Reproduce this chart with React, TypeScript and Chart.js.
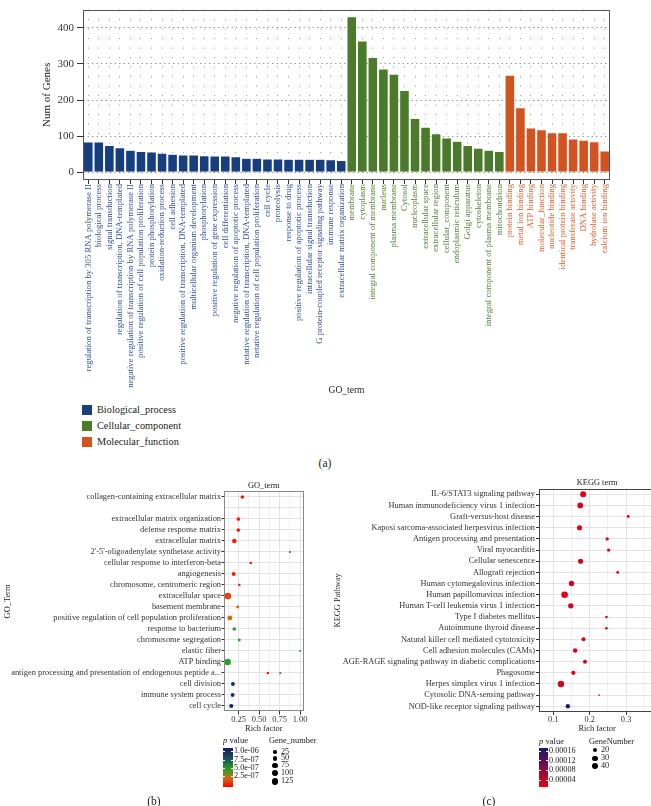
import React, { useEffect, useRef } from "react";
import { Chart, registerables } from "chart.js";

Chart.register(...registerables);

const SERIF = "'Liberation Serif', 'Times New Roman', Times, serif";

// ---------------- Panel (a): GO annotation counts ----------------
const bpTerms = [
  "regulation of transcription by 305 RNA polymerase II",
  "biological process",
  "signal transduction",
  "regulation of transcription, DNA-templated",
  "negative regulation of transcription by RNA polymerase II",
  "positive regulation of cell population proliferation",
  "protein phosphorylation",
  "oxidation-reduction process",
  "cell adhesion",
  "positive regulation of transcription, DNA-templated",
  "multicellular organism development",
  "phosphorylation",
  "positive regulation of gene expression",
  "cell differentiation",
  "negative regulation of apoptotic process",
  "netative regulation of transcription, DNA-templated",
  "netative regulation of cell population proliferation",
  "cell cycle",
  "proteolysis",
  "response to drug",
  "positive regulation of apoptotic process",
  "intracellular signal transduction",
  "G protein-coupled receptor signaling pathway",
  "immune response",
  "extracellular matrix organization",
];
const bpCounts = [84, 84, 74, 68, 61, 58, 56, 53, 50, 48, 48, 46, 45, 45, 43, 39, 39, 37, 37, 36, 36, 36, 36, 35, 33];

const ccTerms = [
  "membrane",
  "cytoplasm",
  "integral component of membrane",
  "nucleus",
  "plasma membrane",
  "Cytosol",
  "nucleoplasm",
  "extracellular space",
  "extracellular region",
  "cellular_component",
  "endoplasmic reticulum",
  "Golgi apparatus",
  "cytoskeleton",
  "integral component of plasma membrane",
  "mitochondrion",
];
const ccCounts = [431, 364, 318, 286, 272, 227, 149, 125, 107, 95, 86, 74, 67, 61, 58];

const mfTerms = [
  "protein binding",
  "metal ion binding",
  "ATP binding",
  "molecular_function",
  "nucleotide binding",
  "identical protein binding",
  "transferase activity",
  "DNA binding",
  "hydrolase activity",
  "calcium ion binding",
];
const mfCounts = [269, 179, 123, 118, 110, 110, 92, 89, 85, 59];

const groupNames = ["Biological_process", "Cellular_component", "Molecular_function"];
const geneTicks = [0, 100, 200, 300, 400];

// ---------------- Panel (b): GO enrichment ----------------
const goTerms = [
  "collagen-containing extracellular matrix",
  " ",
  "extracellular matrix organization",
  "defense response matrix",
  "extracellular matrix",
  "2'-5'-oligoadenylate synthetase activity",
  "cellular response to interferon-beta",
  "angiogenesis",
  "chromosome, centromeric region",
  "extracellular space",
  "basement membrane",
  "positive regulation of cell population proliferation",
  "response to bacterium",
  "chromosome segregation",
  "elastic fiber",
  "ATP binding",
  "antigen processing and presentation of endogenous peptide a...",
  "cell division",
  "immune system process",
  "cell cycle",
];
const goPointTerm = [
  "collagen-containing extracellular matrix",
  "extracellular matrix organization",
  "defense response matrix",
  "extracellular matrix",
  "2'-5'-oligoadenylate synthetase activity",
  "cellular response to interferon-beta",
  "angiogenesis",
  "chromosome, centromeric region",
  "extracellular space",
  "basement membrane",
  "positive regulation of cell population proliferation",
  "response to bacterium",
  "chromosome segregation",
  "elastic fiber",
  "ATP binding",
  "antigen processing and presentation of endogenous peptide a...",
  "antigen processing and presentation of endogenous peptide a...",
  "cell division",
  "immune system process",
  "cell cycle",
];
const goRich = [0.295, 0.246, 0.246, 0.197, 0.877, 0.398, 0.189, 0.258, 0.118, 0.238, 0.143, 0.197, 0.258, 1.0, 0.115, 0.607, 0.758, 0.18, 0.176, 0.16];
const goGenes = [25, 25, 25, 45, 3, 8, 32, 8, 125, 12, 58, 25, 12, 2, 123, 8, 3, 30, 30, 37];
const goP = [6e-8, 6e-8, 6e-8, 5e-8, 5e-8, 6e-8, 7e-8, 9e-8, 1.6e-7, 2.3e-7, 2.6e-7, 4.9e-7, 5e-7, 5.1e-7, 5e-7, 5e-8, 6.2e-7, 1.0e-6, 1.0e-6, 1.05e-6];
const goRichTicks = [0.125, 0.25, 0.375, 0.5, 0.625, 0.75, 0.875, 1.0];
const goPLegend = ["1.0e-06", "7.5e-07", "5.0e-07", "2.5e-07"];
const goGeneLegend = [25, 50, 75, 100, 125];

// ---------------- Panel (c): KEGG enrichment ----------------
const keggTerms = [
  "IL-6/STAT3 signaling pathway",
  "Human immunodeficiency virus 1 infection",
  "Graft-versus-host disease",
  "Kaposi sarcoma-associated herpesvirus infection",
  "Antigen processing and presentation",
  "Viral myocarditis",
  "Cellular senescence",
  "Allograft rejection",
  "Human cytomegalovirus infection",
  "Human papillomavirus infection",
  "Human T-cell leukemia virus 1 infection",
  "Type I diabetes mellitus",
  "Autoimmune thyroid disease",
  "Natural killer cell mediated cytotoxicity",
  "Cell adhesion molecules (CAMs)",
  "AGE-RAGE signaling pathway in diabetic complications",
  "Phagosome",
  "Herpes simplex virus 1 infection",
  "Cytosolic DNA-sensing pathway",
  "NOD-like receptor signaling pathway",
];
const keggRich = [0.182, 0.174, 0.306, 0.172, 0.248, 0.252, 0.175, 0.277, 0.15, 0.131, 0.148, 0.246, 0.246, 0.183, 0.16, 0.187, 0.155, 0.121, 0.226, 0.14];
const keggGenes = [40, 37, 12, 30, 15, 15, 30, 12, 33, 48, 33, 10, 10, 20, 24, 20, 22, 44, 5, 24];
const keggP = [2.0e-5, 2.0e-5, 2.2e-5, 2.1e-5, 2.2e-5, 2.2e-5, 2.3e-5, 2.3e-5, 2.4e-5, 2.4e-5, 2.5e-5, 2.5e-5, 2.6e-5, 2.8e-5, 3.0e-5, 3.0e-5, 3.2e-5, 3.3e-5, 3.5e-5, 1.7e-4];
const keggRichTicks = [0.1, 0.15, 0.2, 0.25, 0.3, 0.35];
const keggPLegend = ["0.00016", "0.00012", "0.00008", "0.00004"];
const keggGeneLegend = [20, 30, 40];

// ---------------- styles ----------------
const groupColors = ["#173f7f", "#4b7a2b", "#d2531f"];
const groupTextColors = ["#2d4f95", "#4f8030", "#d9602a"];

type Stop = [number, number[]];
const stopsB: Stop[] = [
  [0, [255, 0, 0]],
  [2.5e-7, [205, 110, 20]],
  [5e-7, [40, 160, 40]],
  [7.5e-7, [30, 90, 80]],
  [1.1e-6, [25, 25, 110]],
];
const stopsC: Stop[] = [
  [1.57e-5, [232, 0, 20]],
  [1.73e-4, [25, 25, 110]],
];

function colorAt(stops: Stop[], v: number): string {
  if (v <= stops[0][0]) return `rgb(${stops[0][1].join(",")})`;
  for (let i = 1; i < stops.length; i++) {
    if (v <= stops[i][0]) {
      const [a, ca] = stops[i - 1];
      const [b, cb] = stops[i];
      const t = (v - a) / (b - a);
      const c = ca.map((x, k) => Math.round(x + (cb[k] - x) * t));
      return `rgb(${c.join(",")})`;
    }
  }
  return `rgb(${stops[stops.length - 1][1].join(",")})`;
}
function gradientCss(stops: Stop[], lo: number, hi: number): string {
  const parts = stops.map(([v, c]) => `rgb(${c.join(",")}) ${(((v - lo) / (hi - lo)) * 100).toFixed(1)}%`);
  return `linear-gradient(to top, ${parts.join(", ")})`;
}
const radiusB = (n: number) => 0.62 + 0.243 * Math.sqrt(n);
const radiusC = (n: number) => -0.41 + 0.54 * Math.sqrt(n);

const framePlugin = {
  id: "frame",
  afterDatasetsDraw(chart: any, _args: any, opts: any) {
    const { ctx, chartArea: a } = chart;
    ctx.save();
    ctx.strokeStyle = opts.color || "#555";
    ctx.lineWidth = opts.width || 1;
    ctx.strokeRect(Math.round(a.left) + 0.5, Math.round(a.top) + 0.5, Math.round(a.right - a.left) - 1, Math.round(a.bottom - a.top) - 1);
    ctx.restore();
  },
};

const isMult = (v: number, step: number) => Math.abs(v / step - Math.round(v / step)) < 1e-6;

function Txt(props: { x: number; cy: number; size: number; children: any; center?: boolean; color?: string }) {
  const lh = props.size * 1.3;
  return (
    <div
      style={{
        position: "absolute",
        left: props.x,
        top: props.cy - lh / 2,
        lineHeight: lh + "px",
        fontSize: props.size,
        fontFamily: SERIF,
        color: props.color || "#222",
        whiteSpace: "nowrap",
        transform: props.center ? "translateX(-50%)" : undefined,
      }}
    >
      {props.children}
    </div>
  );
}

export default function App() {
  const refA = useRef<HTMLCanvasElement>(null);
  const refB = useRef<HTMLCanvasElement>(null);
  const refC = useRef<HTMLCanvasElement>(null);

  useEffect(() => {
    Chart.defaults.font.family = SERIF;
    const charts: Chart[] = [];

    // ----- (a) -----
    const barLabels = [...bpTerms, ...ccTerms, ...mfTerms];
    const barValues = [...bpCounts, ...ccCounts, ...mfCounts];
    const barGroup = [...bpTerms.map(() => 0), ...ccTerms.map(() => 1), ...mfTerms.map(() => 2)];
    charts.push(
      new Chart(refA.current as HTMLCanvasElement, {
        type: "bar",
        data: {
          labels: barLabels,
          datasets: [
            {
              data: barValues,
              backgroundColor: barGroup.map((g) => groupColors[g]),
              borderColor: "rgba(255,255,255,0.6)",
              borderWidth: 0.6,
              barPercentage: 0.93,
              categoryPercentage: 1,
            },
          ],
        },
        options: {
          animation: false,
          responsive: false,
          layout: { padding: { top: 1, right: 41, bottom: 4, left: 0 } },
          plugins: { legend: { display: false }, tooltip: { enabled: false }, frame: { color: "#555", width: 1 } } as any,
          scales: {
            x: {
              type: "category",
              offset: true,
              grid: { offset: false, color: "#9a9a9a", lineWidth: 1, tickLength: 4, tickColor: "#333", tickWidth: 1 },
              border: { display: false, dash: [1, 8.5] },
              ticks: {
                autoSkip: false,
                minRotation: 90,
                maxRotation: 90,
                padding: 0,
                color: (c: any) => groupTextColors[barGroup[c.index]],
                font: { family: SERIF, size: 8.7 },
              },
              title: { display: true, text: "GO_term", color: "#222", font: { family: SERIF, size: 9.5 }, padding: { top: 0, bottom: 0 } },
              afterFit: (s: any) => {
                s.height = 216;
              },
            } as any,
            y: {
              min: -21.5,
              max: 450.5,
              afterBuildTicks: (s: any) => {
                s.ticks = geneTicks.map((v) => ({ value: v }));
              },
              grid: { color: "#9a9a9a", lineWidth: 1, tickLength: 6, tickColor: "#333", tickWidth: 1 },
              border: { display: false, dash: [1.5, 3] },
              ticks: { color: "#333", font: { family: SERIF, size: 11 }, padding: 3 },
              title: { display: true, text: "Num of Genes", color: "#222", font: { family: SERIF, size: 11 }, padding: { top: 41, bottom: 0 } },
              afterFit: (s: any) => {
                s.width = 83;
              },
            } as any,
          },
        },
        plugins: [framePlugin],
      })
    );

    // ----- (b) -----
    charts.push(
      new Chart(refB.current as HTMLCanvasElement, {
        type: "bubble",
        data: {
          datasets: [
            {
              data: goPointTerm.map((t, i) => ({ x: goRich[i], y: t as any, r: radiusB(goGenes[i]) })),
              backgroundColor: goP.map((p) => colorAt(stopsB, p)),
              borderWidth: 0,
            },
          ],
        },
        options: {
          animation: false,
          responsive: false,
          layout: { padding: { top: 0, right: 22.4, bottom: 0, left: 0 } },
          plugins: {
            legend: { display: false },
            tooltip: { enabled: false },
            title: { display: true, fullSize: false, text: "GO_term", color: "#222", font: { family: SERIF, size: 8.4, weight: "normal" }, padding: { top: 5, bottom: 0.4 } },
            frame: { color: "#888", width: 1 },
          } as any,
          scales: {
            x: {
              type: "linear",
              min: 0.071,
              max: 1.044,
              afterBuildTicks: (s: any) => {
                s.ticks = goRichTicks.map((v) => ({ value: v }));
              },
              ticks: {
                autoSkip: false,
                maxRotation: 0,
                padding: 0,
                color: "#333",
                font: { family: SERIF, size: 8.4 },
                callback: (v: any) => (isMult(Number(v), 0.25) ? Number(v).toFixed(2) : ""),
              },
              grid: {
                color: "#e3e3e3",
                lineWidth: (c: any) => (isMult(c.tick?.value ?? 0, 0.25) ? 1 : 0.5),
                tickLength: 3,
                tickColor: (c: any) => (isMult(c.tick?.value ?? 0, 0.25) ? "#333" : "rgba(0,0,0,0)"),
              },
              border: { display: false },
              title: { display: true, text: "Rich factor", color: "#222", font: { family: SERIF, size: 8.4 }, padding: { top: 0, bottom: 4 } },
              afterFit: (s: any) => {
                s.height = 26.5;
              },
            } as any,
            y: {
              type: "category",
              labels: goTerms,
              offset: true,
              grid: {
                color: "#e3e3e3",
                lineWidth: 1,
                tickLength: 2.5,
                tickColor: (c: any) => (c.index === 1 ? "rgba(0,0,0,0)" : "#333"),
              },
              border: { display: false },
              ticks: { autoSkip: false, color: "#333", padding: 0.5, font: { family: SERIF, size: 8.4 } },
              title: { display: true, text: "GO_Term", color: "#222", font: { family: SERIF, size: 8.4 }, padding: { top: 3, bottom: 0 } },
              afterFit: (s: any) => {
                s.width = 224;
              },
            } as any,
          },
        },
        plugins: [framePlugin],
      })
    );

    // ----- (c) -----
    charts.push(
      new Chart(refC.current as HTMLCanvasElement, {
        type: "bubble",
        data: {
          datasets: [
            {
              data: keggTerms.map((t, i) => ({ x: keggRich[i], y: t as any, r: radiusC(keggGenes[i]) })),
              backgroundColor: keggP.map((p) => colorAt(stopsC, p)),
              borderWidth: 0,
            },
          ],
        },
        options: {
          animation: false,
          responsive: false,
          layout: { padding: { top: 0, right: 14.8, bottom: 0, left: 0 } },
          plugins: {
            legend: { display: false },
            tooltip: { enabled: false },
            title: { display: true, fullSize: false, text: "KEGG term", color: "#222", font: { family: SERIF, size: 8.4, weight: "normal" }, padding: { top: 1.7, bottom: 0.9 } },
            frame: { color: "#444", width: 1 },
          } as any,
          scales: {
            x: {
              type: "linear",
              min: 0.0607,
              max: 0.38,
              afterBuildTicks: (s: any) => {
                s.ticks = keggRichTicks.map((v) => ({ value: v }));
              },
              ticks: {
                autoSkip: false,
                maxRotation: 0,
                padding: 0,
                color: "#333",
                font: { family: SERIF, size: 8.4 },
                callback: (v: any) => (isMult(Number(v), 0.1) ? Number(v).toFixed(1) : ""),
              },
              grid: {
                color: "#e3e3e3",
                lineWidth: (c: any) => (isMult(c.tick?.value ?? 0, 0.1) ? 1 : 0.5),
                tickLength: 3,
                tickColor: (c: any) => (isMult(c.tick?.value ?? 0, 0.1) ? "#333" : "rgba(0,0,0,0)"),
              },
              border: { display: false },
              title: { display: true, text: "Rich factor", color: "#222", font: { family: SERIF, size: 8.4 }, padding: { top: 0, bottom: 4 } },
              afterFit: (s: any) => {
                s.height = 26.1;
              },
            } as any,
            y: {
              type: "category",
              labels: keggTerms,
              offset: true,
              grid: { color: "#e3e3e3", lineWidth: 1, tickLength: 3, tickColor: "#333" },
              border: { display: false },
              ticks: { autoSkip: false, color: "#333", padding: 1, font: { family: SERIF, size: 8.4 } },
              title: { display: true, text: "KEGG Pathway", color: "#222", font: { family: SERIF, size: 8.4 }, padding: { top: 3, bottom: 0 } },
              afterFit: (s: any) => {
                s.width = 209;
              },
            } as any,
          },
        },
        plugins: [framePlugin],
      })
    );

    return () => charts.forEach((c) => c.destroy());
  }, []);

  const legendYs = [410, 426, 442];
  const bTickY = [751.7, 760, 768.3, 776.7];
  const bDotY = [752, 758.7, 765.3, 773.3, 781.3];
  const cTickY = [751, 760.9, 770.8, 780.7];
  const cDotY = [750.3, 758.3, 766.3];

  return (
    <div style={{ position: "absolute", left: 0, top: 0, width: 651, height: 806, overflow: "hidden", background: "#fff" }}>
      <canvas ref={refA} width={651} height={400} style={{ position: "absolute", left: 0, top: 0 }} />
      <canvas ref={refB} width={326} height={262} style={{ position: "absolute", left: 0, top: 476 }} />
      <canvas ref={refC} width={340} height={262} style={{ position: "absolute", left: 330, top: 476 }} />

      {/* legend (a) */}
      {groupNames.map((g, i) => (
        <React.Fragment key={g}>
          <div style={{ position: "absolute", left: 82, top: legendYs[i] - 5, width: 10, height: 10, background: groupColors[i] }} />
          <Txt x={97} cy={legendYs[i]} size={10.3}>
            {g}
          </Txt>
        </React.Fragment>
      ))}
      <Txt x={325} cy={463} size={11.5} center>
        (a)
      </Txt>

      {/* legend (b) */}
      <Txt x={223} cy={741} size={8.6}>
        <i>p</i> value
      </Txt>
      <div style={{ position: "absolute", left: 223, top: 747.5, width: 10, height: 39.5, background: gradientCss(stopsB, 0, 1.1e-6) }} />
      {goPLegend.map((t, i) => (
        <React.Fragment key={t}>
          <div style={{ position: "absolute", left: 223, top: bTickY[i] - 0.5, width: 2, height: 1, background: "#fff" }} />
          <div style={{ position: "absolute", left: 231, top: bTickY[i] - 0.5, width: 2, height: 1, background: "#fff" }} />
          <Txt x={234} cy={bTickY[i]} size={8.2}>
            {t}
          </Txt>
        </React.Fragment>
      ))}
      <Txt x={269} cy={741} size={8.4}>
        Gene_number
      </Txt>
      {goGeneLegend.map((n, i) => {
        const r = radiusB(n);
        return (
          <React.Fragment key={n}>
            <div style={{ position: "absolute", left: 275 - r, top: bDotY[i] - r, width: 2 * r, height: 2 * r, borderRadius: "50%", background: "#000" }} />
            <Txt x={281} cy={bDotY[i]} size={8.2}>
              {String(n)}
            </Txt>
          </React.Fragment>
        );
      })}
      <Txt x={154} cy={801} size={11.5} center>
        (b)
      </Txt>

      {/* legend (c) */}
      <Txt x={539} cy={742} size={8.6}>
        <i>p</i> value
      </Txt>
      <div style={{ position: "absolute", left: 539, top: 747.7, width: 9, height: 39, background: gradientCss(stopsC, 1.57e-5, 1.73e-4) }} />
      {keggPLegend.map((t, i) => (
        <React.Fragment key={t}>
          <div style={{ position: "absolute", left: 539, top: cTickY[i] - 0.5, width: 2, height: 1, background: "#fff" }} />
          <div style={{ position: "absolute", left: 546, top: cTickY[i] - 0.5, width: 2, height: 1, background: "#fff" }} />
          <Txt x={549} cy={cTickY[i]} size={8.2}>
            {t}
          </Txt>
        </React.Fragment>
      ))}
      <Txt x={589} cy={742} size={8.4}>
        GeneNumber
      </Txt>
      {keggGeneLegend.map((n, i) => {
        const r = radiusC(n);
        return (
          <React.Fragment key={n}>
            <div style={{ position: "absolute", left: 595 - r, top: cDotY[i] - r, width: 2 * r, height: 2 * r, borderRadius: "50%", background: "#000" }} />
            <Txt x={601} cy={cDotY[i]} size={8.2}>
              {String(n)}
            </Txt>
          </React.Fragment>
        );
      })}
      <Txt x={489} cy={801} size={11.5} center>
        (c)
      </Txt>
    </div>
  );
}
